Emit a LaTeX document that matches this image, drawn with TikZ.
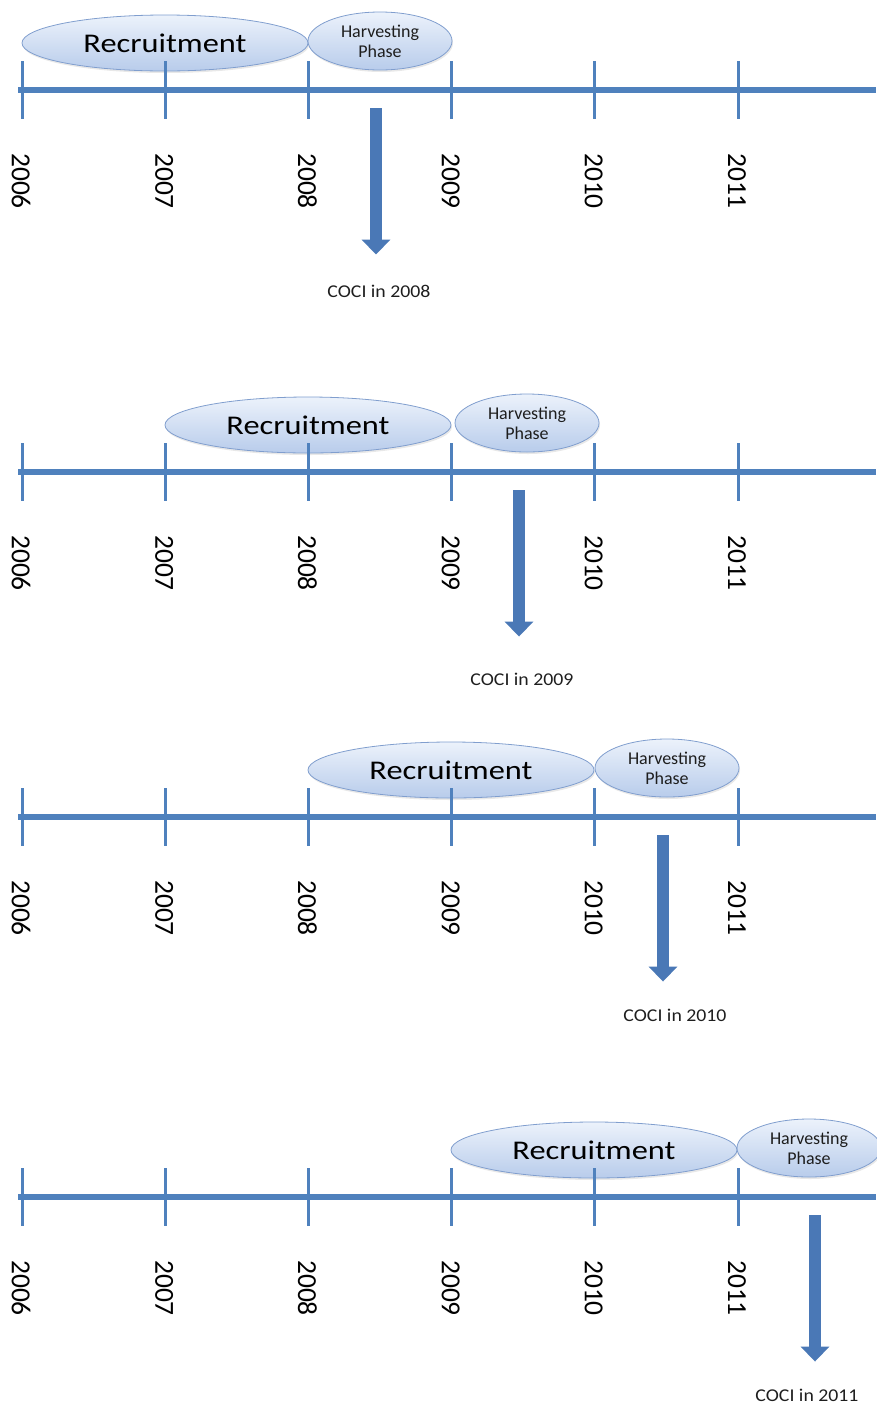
\documentclass[tikz,border=0pt]{standalone}
\usepackage{fontspec}
\setmainfont{Carlito}
\usetikzlibrary{arrows.meta}
\usetikzlibrary{shapes.geometric,shadows}

\definecolor{axisblue}{RGB}{79,129,189}
\definecolor{arrowblue}{RGB}{74,120,182}
\definecolor{ovaltop}{RGB}{236,242,251}
\definecolor{ovalbot}{RGB}{184,204,235}
\definecolor{ovaledge}{RGB}{128,158,206}
\definecolor{inkgrey}{RGB}{30,30,30}

\tikzset{
  axisline/.style={axisblue, line width=6pt},
  tickline/.style={axisblue, line width=3pt},
  oval/.style={ellipse, draw=ovaledge, line width=0.8pt, top color=ovaltop, bottom color=ovalbot,
    inner sep=0pt, text=inkgrey,
    drop shadow={opacity=0.18, shadow xshift=1pt, shadow yshift=-2pt}},
  recoval/.style={oval, minimum width=286pt, minimum height=56pt, text=black, font=\fontsize{27}{27}\selectfont},
  harvoval/.style={oval, minimum width=144pt, minimum height=58pt, align=center, font=\fontsize{18}{20}\selectfont},
  yearlabel/.style={rotate=-90, inner sep=0pt, text=black, font=\fontsize{27.5}{27.5}\selectfont},
  cocilabel/.style={inner sep=0pt, text=inkgrey, font=\fontsize{18}{18}\selectfont},
  cociarrow/.style={arrowblue, line width=12pt, -{Triangle[width=28pt,length=15pt]}}
}

\begin{document}
\begin{tikzpicture}[x=1pt,y=-1pt]

		\useasboundingbox (0,0) rectangle (876,1409);

		% one timeline per panel: axis y, recruitment x, harvest x, arrow x, label x, label y
		\foreach \p/\ay/\rx/\hx/\ax/\cx/\cy in {1/90/165/380/376/379/291,
		                                       2/472/308/527/519/522/679,
		                                       3/817/451/667/663/675/1015,
		                                       4/1197/594/809/815/807/1395}{

			\coordinate (left\p) at (18,\ay);
			\coordinate (right\p) at (876,\ay);
			\draw [axisline] (left\p) -- (right\p);

			\node [recoval] (rec\p) at (\rx,\ay-47) {\scalebox{1.2}[1]{Recruitment}};
			\node [harvoval] (harv\p) at (\hx,\ay-49) {Harvesting\\Phase};

			\foreach \i [evaluate=\i as \tx using 22+143.2*\i,
			             evaluate=\i as \yr using int(2006+\i)] in {0,...,5}{
				\coordinate (tu\p\i) at (\tx,\ay-29);
				\coordinate (td\p\i) at (\tx,\ay+29);
				\draw [tickline] (tu\p\i) -- (td\p\i);
				\node [yearlabel] (yr\p\i) at (\tx-1,\ay+91) {\yr};
			}

			\node [cocilabel] (coci\p) at (\cx,\cy) {\scalebox{1.1}[1]{COCI in \the\numexpr2007+\p\relax}};
			\coordinate (top\p) at (\ax,\ay+18);
			\draw [cociarrow, shorten >={(\cy-\ay-171)*1pt}] (top\p) -- (top\p |- coci\p.north);
		}
\end{tikzpicture}
\end{document}
